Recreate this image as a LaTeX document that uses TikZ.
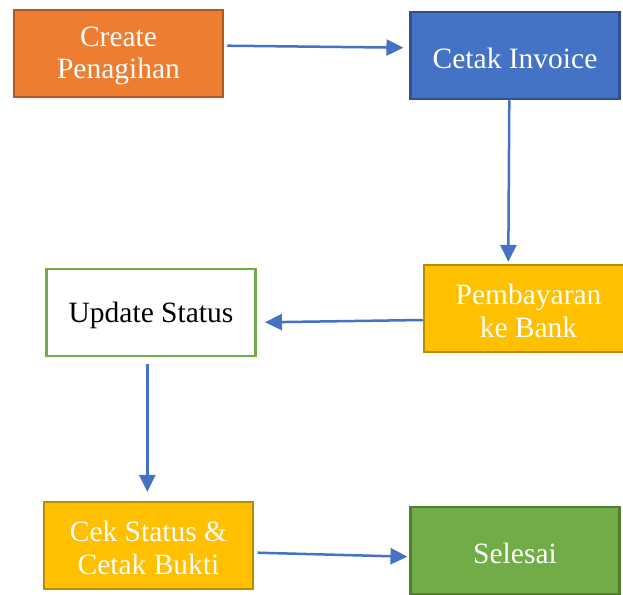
\documentclass[tikz,border=0pt]{standalone}
\usepackage{fontspec}
\setmainfont{Liberation Serif}
\usetikzlibrary{arrows.meta}

\definecolor{orangeFill}{HTML}{ED7D31}
\definecolor{orangeLine}{HTML}{AE5A21}
\definecolor{blueFill}{HTML}{4472C4}
\definecolor{blueLine}{HTML}{2F528F}
\definecolor{goldFill}{HTML}{FFC000}
\definecolor{goldLine}{HTML}{BC8C00}
\definecolor{greenFill}{HTML}{70AD47}
\definecolor{greenLine}{HTML}{507E32}
\definecolor{flowBlue}{HTML}{4472C4}

\tikzset{
  stepbox/.style={rectangle, line width=2.5pt, inner sep=0pt,
    minimum width=209pt, minimum height=87pt},
  boxtext/.style={align=center, inner sep=0pt, yshift=-2.5pt,
    font=\fontsize{29.5}{32.5}\selectfont},
  whitetext/.style={boxtext, text=white},
  darktext/.style={boxtext, text=black},
  orangebox/.style={stepbox, draw=orangeLine, fill=orangeFill},
  bluebox/.style={stepbox, draw=blueLine, fill=blueFill},
  goldbox/.style={stepbox, draw=goldLine, fill=goldFill},
  greenbox/.style={stepbox, draw=greenLine, fill=greenFill},
  plainbox/.style={stepbox, draw=greenFill, fill=white},
  flow/.style={draw=flowBlue, line width=2.5pt,
    -{Triangle[length=17pt,width=16pt]}}
}

\begin{document}
\begin{tikzpicture}[x=1pt,y=-1pt]
  \useasboundingbox (0,0) rectangle (623,594);

  \node[orangebox, label={[whitetext]center:{Create\\Penagihan}}] (create) at (118.5,53.5) {};
  \node[bluebox, label={[whitetext]center:{Cetak Invoice}}] (cetak) at (515,55.5) {};
  \node[goldbox, label={[whitetext]center:{Pembayaran\\ke Bank}}] (bayar) at (528.5,308.5) {};
  \node[plainbox, label={[darktext]center:{Update Status}}] (update) at (151,312.5) {};
  \node[goldbox, label={[whitetext]center:{Cek Status \&\\Cetak Bukti}}] (cek) at (148.5,545.5) {};
  \node[greenbox, label={[whitetext]center:{Selesai}}] (selesai) at (515,550.5) {};

  \draw[flow] ([shift={(3,-7.8)}]create.east) -- ([shift={(-5.8,-7.8)}]cetak.west);
  \draw[flow] ([shift={(-5.7,0)}]cetak.south) -- ([shift={(-20.2,-1.8)}]bayar.north);
  \draw[flow] ([shift={(0,11.5)}]bayar.west) -- ([shift={(8.2,9.8)}]update.east);
  \draw[flow] ([shift={(-3.7,6.3)}]update.south) -- ([shift={(-1.2,-8.8)}]cek.north);
  \draw[flow] ([shift={(3.3,7.2)}]cek.east) -- ([shift={(-1.8,6.2)}]selesai.west);
\end{tikzpicture}
\end{document}
